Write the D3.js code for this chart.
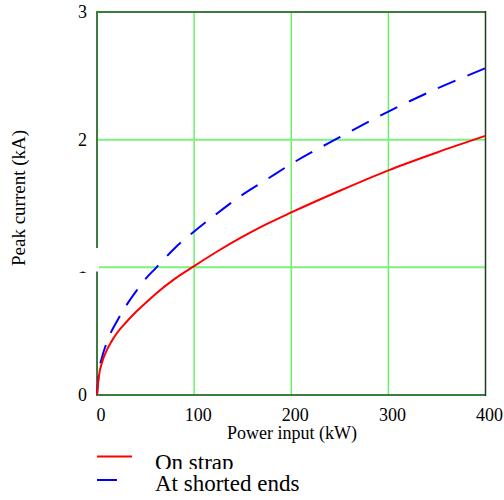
<!DOCTYPE html>
<html>
<head>
<meta charset="utf-8">
<script src="https://cdn.jsdelivr.net/npm/d3@7"></script>
<style>
  html, body { margin: 0; padding: 0; background: #fff; }
  svg { display: block; }
  text { font-family: "Liberation Serif", "Times New Roman", serif; fill: #000; }
</style>
</head>
<body>
<svg id="chart" width="504" height="500"></svg>
<script>
// Power input (kW) at which the peak current was evaluated
const powerKW = [0, 2, 5, 10, 15, 20, 30, 40, 50, 60, 80, 100, 125, 150, 175, 200, 250, 300, 350, 400];
// Peak current (kA) measured on the strap
const onStrap = [0, 0.15, 0.25, 0.35, 0.42, 0.48, 0.57, 0.65, 0.72, 0.79, 0.91, 1.01, 1.13, 1.24, 1.34, 1.43, 1.60, 1.76, 1.90, 2.03];
// Peak current (kA) at the shorted ends
const shortedEnds = [0, 0.18, 0.29, 0.41, 0.50, 0.57, 0.70, 0.81, 0.91, 0.99, 1.15, 1.28, 1.43, 1.57, 1.69, 1.81, 2.02, 2.22, 2.40, 2.56];

const xTicks = [0, 100, 200, 300, 400];
const yTicks = [0, 1, 2, 3];
const seriesNames = ["On strap", "At shorted ends"];

const svg = d3.select("#chart");
const plotL = 97, plotR = 485.5, plotT = 12, plotB = 395;

const x = d3.scaleLinear().domain([0, 400]).range([plotL, plotR]);
const y = d3.scaleLinear().domain([0, 3]).range([plotB, plotT]);

// grid lines
const grid = svg.append("g");
grid.selectAll("line.vg").data(xTicks.filter(d => d > 0 && d < 400)).enter()
  .append("line")
  .attr("x1", d => x(d)).attr("x2", d => x(d))
  .attr("y1", plotT).attr("y2", plotB)
  .attr("stroke", "#6cf06c").attr("stroke-width", 1.5);
grid.selectAll("line.hg").data(yTicks.filter(d => d > 0 && d < 3)).enter()
  .append("line")
  .attr("x1", plotL).attr("x2", plotR)
  .attr("y1", d => y(d)).attr("y2", d => y(d))
  .attr("stroke", "#7cf07c").attr("stroke-width", 2);

// frame
const frame = svg.append("g");
frame.append("line").attr("x1", plotL).attr("x2", plotR).attr("y1", plotT).attr("y2", plotT)
  .attr("stroke", "#3c7d3c").attr("stroke-width", 2);
frame.append("line").attr("x1", plotL).attr("x2", plotR).attr("y1", plotB).attr("y2", plotB)
  .attr("stroke", "#3c7d3c").attr("stroke-width", 2);
frame.append("line").attr("x1", plotL).attr("x2", plotL).attr("y1", plotT - 1).attr("y2", plotB + 1)
  .attr("stroke", "#3c7d3c").attr("stroke-width", 2);
frame.append("line").attr("x1", plotR).attr("x2", plotR).attr("y1", plotT - 1).attr("y2", plotB + 1)
  .attr("stroke", "#1e3d1e").attr("stroke-width", 1.5);

// curves
const line = vals => d3.line()
  .x((d, i) => x(powerKW[i]))
  .y(d => y(d))
  .curve(d3.curveMonotoneX)(vals);

svg.append("path").attr("d", line(shortedEnds))
  .attr("fill", "none").attr("stroke", "#0000ff").attr("stroke-width", 2)
  .attr("stroke-dasharray", "19,13");
svg.append("path").attr("d", line(onStrap))
  .attr("fill", "none").attr("stroke", "#ff0000").attr("stroke-width", 2);

// tick labels
svg.append("g").selectAll("text").data(xTicks).enter().append("text")
  .attr("x", d => x(d) + 4).attr("y", 421)
  .attr("text-anchor", "middle").attr("font-size", 18)
  .text(d => d);
svg.append("g").selectAll("text").data(yTicks).enter().append("text")
  .attr("x", 87).attr("y", d => y(d) + 6)
  .attr("text-anchor", "end").attr("font-size", 18)
  .text(d => d);

// axis titles (the y title sits on a white panel that overlaps the axis)
svg.append("rect").attr("x", 78).attr("y", 248).attr("width", 21).attr("height", 23.5).attr("fill", "#fff");
svg.append("text")
  .attr("transform", "translate(25,198) rotate(-90)")
  .attr("text-anchor", "middle").attr("font-size", 19)
  .text("Peak current (kA)");
svg.append("text")
  .attr("x", 292).attr("y", 439)
  .attr("text-anchor", "middle").attr("font-size", 18)
  .text("Power input (kW)");

// legend
const legend = svg.append("g");
legend.append("defs").append("clipPath").attr("id", "row1")
  .append("rect").attr("x", 0).attr("y", 440).attr("width", 504).attr("height", 29);
legend.append("line").attr("x1", 97).attr("x2", 132).attr("y1", 456.5).attr("y2", 456.5)
  .attr("stroke", "#ff0000").attr("stroke-width", 2);
legend.append("text").attr("x", 155).attr("y", 470).attr("font-size", 23)
  .attr("clip-path", "url(#row1)")
  .text(seriesNames[0]);
legend.append("line").attr("x1", 97).attr("x2", 117).attr("y1", 480).attr("y2", 480)
  .attr("stroke", "#0000ff").attr("stroke-width", 2);
legend.append("text").attr("x", 155).attr("y", 491).attr("font-size", 23)
  .text(seriesNames[1]);
</script>
</body>
</html>
